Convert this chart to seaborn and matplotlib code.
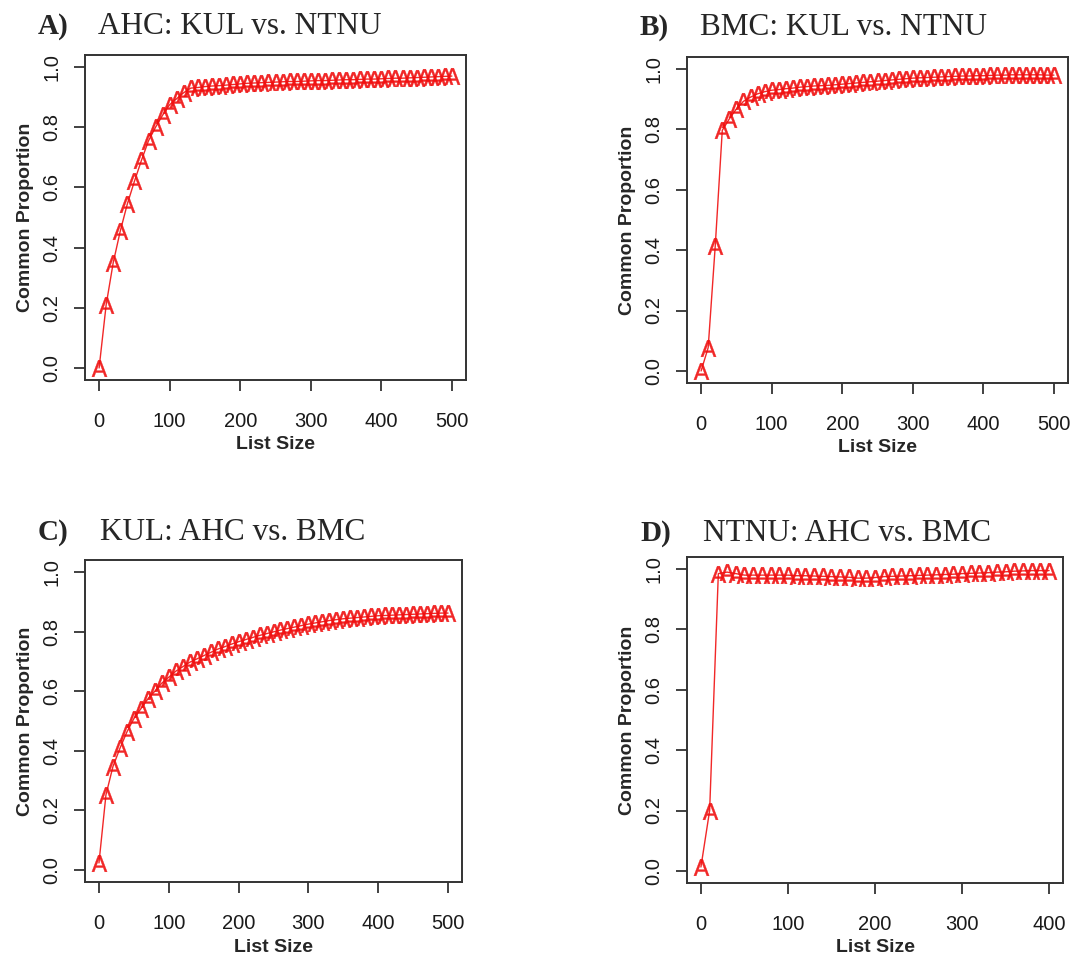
import matplotlib
matplotlib.use("Agg")
import matplotlib.pyplot as plt
import seaborn as sns
import pandas as pd

# ---------------- data ----------------
list_size_500 = [0, 10, 20, 30, 40, 50, 60, 70, 80, 90, 100, 110, 120, 130, 140, 150,
                 160, 170, 180, 190, 200, 210, 220, 230, 240, 250, 260, 270, 280, 290,
                 300, 310, 320, 330, 340, 350, 360, 370, 380, 390, 400, 410, 420, 430,
                 440, 450, 460, 470, 480, 490, 500]
list_size_400 = [0, 10, 20, 30, 40, 50, 60, 70, 80, 90, 100, 110, 120, 130, 140, 150,
                 160, 170, 180, 190, 200, 210, 220, 230, 240, 250, 260, 270, 280, 290,
                 300, 310, 320, 330, 340, 350, 360, 370, 380, 390, 400]

ahc_kul_ntnu = [0.00, 0.21, 0.35, 0.455, 0.545, 0.62, 0.69, 0.755, 0.80, 0.84, 0.875,
                0.895, 0.915, 0.93, 0.932, 0.935, 0.937, 0.938, 0.94, 0.942, 0.944,
                0.946, 0.947, 0.948, 0.949, 0.95, 0.951, 0.952, 0.952, 0.953, 0.954,
                0.955, 0.955, 0.956, 0.957, 0.958, 0.958, 0.959, 0.96, 0.96, 0.961,
                0.962, 0.963, 0.963, 0.964, 0.965, 0.966, 0.967, 0.968, 0.969, 0.97]

bmc_kul_ntnu = [0.0, 0.077, 0.413, 0.797, 0.835, 0.868, 0.893, 0.907, 0.918, 0.925, 0.93,
                0.932, 0.935, 0.937, 0.94, 0.942, 0.944, 0.945, 0.946, 0.948, 0.95,
                0.952, 0.954, 0.956, 0.958, 0.96, 0.962, 0.964, 0.966, 0.968, 0.97,
                0.971, 0.972, 0.973, 0.974, 0.975, 0.976, 0.977, 0.977, 0.978, 0.978,
                0.979, 0.98, 0.98, 0.981, 0.981, 0.981, 0.981, 0.981, 0.98, 0.98]

kul_ahc_bmc = [0.024, 0.252, 0.347, 0.408, 0.463, 0.508, 0.541, 0.574, 0.60, 0.627, 0.647,
               0.667, 0.682, 0.697, 0.708, 0.719, 0.73, 0.741, 0.749, 0.758, 0.766,
               0.773, 0.780, 0.787, 0.793, 0.799, 0.805, 0.81, 0.815, 0.82, 0.825,
               0.829, 0.833, 0.837, 0.84, 0.843, 0.845, 0.847, 0.849, 0.851, 0.853,
               0.854, 0.855, 0.856, 0.857, 0.858, 0.859, 0.86, 0.861, 0.862, 0.862]

ntnu_ahc_bmc = [0.013, 0.20, 0.985, 0.99, 0.985, 0.98, 0.98, 0.98, 0.98, 0.98, 0.98,
                0.978, 0.978, 0.977, 0.976, 0.975, 0.974, 0.973, 0.97, 0.97, 0.972,
                0.975, 0.976, 0.977, 0.978, 0.979, 0.98, 0.981, 0.982, 0.983, 0.985,
                0.986, 0.987, 0.988, 0.99, 0.991, 0.993, 0.994, 0.995, 0.995, 0.995]

panel_letters = ["A)", "B)", "C)", "D)"]
panel_titles = ["AHC: KUL vs. NTNU", "BMC: KUL vs. NTNU",
                "KUL: AHC vs. BMC", "NTNU: AHC vs. BMC"]
y_ticks = [0.0, 0.2, 0.4, 0.6, 0.8, 1.0]
y_tick_labels = ["0.0", "0.2", "0.4", "0.6", "0.8", "1.0"]
x_ticks_500 = [0, 100, 200, 300, 400, 500]
x_ticks_400 = [0, 100, 200, 300, 400]

# ---------------- figure ----------------
sns.set_style("ticks")
plt.rcParams["font.family"] = ["Liberation Sans", "DejaVu Sans"]

W, H = 1077, 960
fig = plt.figure(figsize=(W / 100, H / 100), dpi=100)

# axes boxes in pixels: left, top, right, bottom
boxes = [(85, 55, 466, 380), (687, 57, 1068, 383),
         (85, 560, 462, 882), (687, 557, 1063, 883)]
series = [(list_size_500, ahc_kul_ntnu, x_ticks_500, 500),
          (list_size_500, bmc_kul_ntnu, x_ticks_500, 500),
          (list_size_500, kul_ahc_bmc, x_ticks_500, 500),
          (list_size_400, ntnu_ahc_bmc, x_ticks_400, 400)]
# title positions (pixels): letter x, title x, baseline y
title_pos = [(38, 98, 34), (640, 700, 35), (38, 100, 540), (640, 703, 541)]

spine_col = "#333333"
red = "#f01010"
for i in range(4):
    l, t, r, b = boxes[i]
    ax = fig.add_axes([l / W, 1 - b / H, (r - l) / W, (b - t) / H])
    xs, ys, xt, xmax = series[i]
    df = pd.DataFrame({"List Size": xs, "Common Proportion": ys})
    sns.lineplot(data=df, x="List Size", y="Common Proportion", ax=ax,
                 color=red, linewidth=1.0, marker=r"$\mathsf{A}$",
                 markersize=12, markeredgewidth=0.25, markeredgecolor=red,
                 markerfacecolor=red, alpha=0.9)
    ax.set_xlim(-0.04 * xmax, 1.04 * xmax)
    ax.set_ylim(-0.04, 1.04)
    ax.set_xticks(xt)
    ax.set_xticklabels([str(v) for v in xt])
    ax.set_yticks(y_ticks)
    ax.set_yticklabels(y_tick_labels, rotation=90, va="center")
    for s in ax.spines.values():
        s.set_visible(True)
        s.set_color(spine_col)
        s.set_linewidth(1.4)
    ax.tick_params(axis="both", direction="out", length=8, width=1.3,
                   bottom=True, left=True, top=False, right=False,
                   color=spine_col, labelsize=14.5, labelcolor="#1a1a1a")
    ax.tick_params(axis="x", pad=15)
    ax.tick_params(axis="y", pad=9)
    ax.set_xlabel("List Size", fontsize=14, fontweight="bold", labelpad=4)
    ax.set_ylabel("Common Proportion", fontsize=14, fontweight="bold", labelpad=6)
    ax.grid(False)

    lx, tx, by = title_pos[i]
    fig.text(lx / W, 1 - by / H, panel_letters[i], fontsize=21, fontweight="bold",
             family=["Liberation Serif", "DejaVu Serif"], va="baseline", ha="left")
    fig.text(tx / W, 1 - by / H, panel_titles[i], fontsize=22.5,
             family=["Liberation Serif", "DejaVu Serif"], va="baseline", ha="left")

fig.savefig("out.png", dpi=100, facecolor="white")
